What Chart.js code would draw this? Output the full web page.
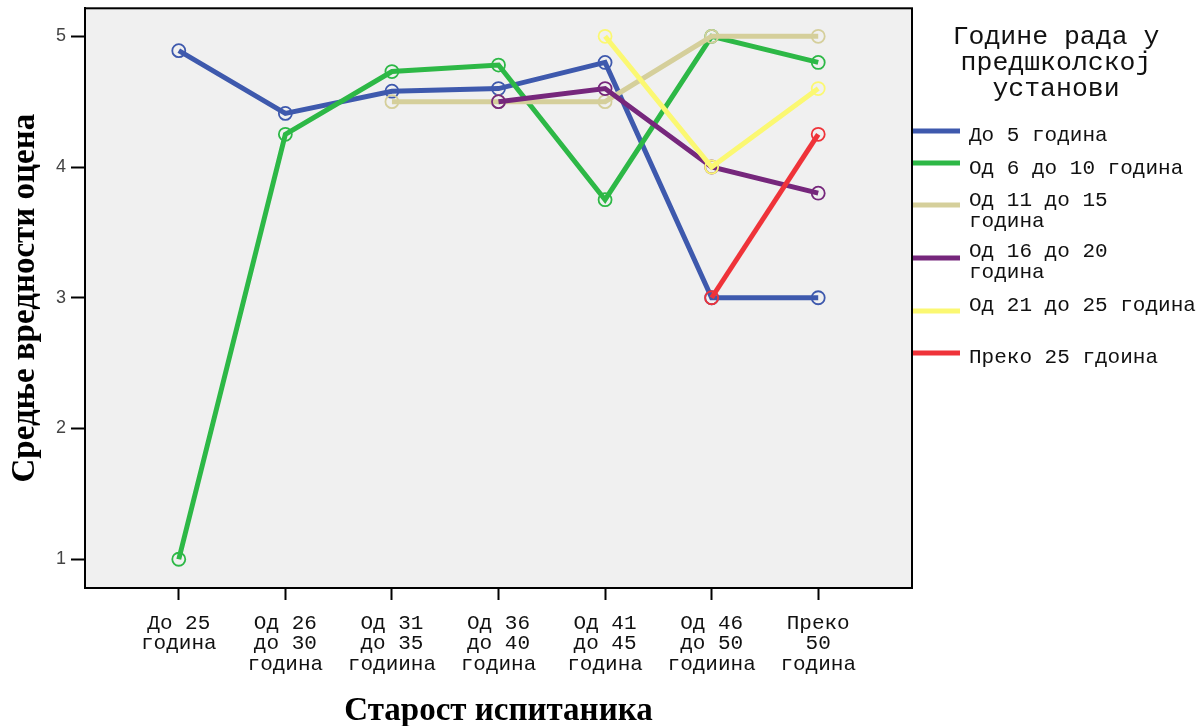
<!DOCTYPE html>
<html>
<head>
<meta charset="utf-8">
<script src="https://cdn.jsdelivr.net/npm/chart.js@4"></script>
<style>
  html, body { margin: 0; padding: 0; background: #ffffff; }
  #wrap { width: 1204px; height: 726px; }
</style>
</head>
<body>
<div id="wrap"><canvas id="c" width="1204" height="726"></canvas></div>
<script>
// Age groups of respondents (x axis), split into lines as printed
const ageGroups = [
  ['До 25', 'година'],
  ['Од 26', 'до 30', 'година'],
  ['Од 31', 'до 35', 'годиина'],
  ['Од 36', 'до 40', 'година'],
  ['Од 41', 'до 45', 'година'],
  ['Од 46', 'до 50', 'годиина'],
  ['Преко', '50', 'година']
];

// Years of work in the preschool institution (series)
const seriesNames = [
  ['До 5 година'],
  ['Од 6 до 10 година'],
  ['Од 11 до 15', 'година'],
  ['Од 16 до 20', 'година'],
  ['Од 21 до 25 година'],
  ['Преко 25 гдоина']
];

// Mean grades per age group
const upTo5      = [4.89, 4.41, 4.58, 4.60, 4.80, 3.00, 3.00];
const from6to10  = [1.00, 4.25, 4.73, 4.78, 3.75, 5.00, 4.80];
const from11to15 = [null, null, 4.50, 4.50, 4.50, 5.00, 5.00];
const from16to20 = [null, null, null, 4.50, 4.60, 4.00, 3.80];
const from21to25 = [null, null, null, null, 5.00, 4.00, 4.60];
const over25     = [null, null, null, null, null, 3.00, 4.25];

const yTicks = [1, 2, 3, 4, 5];

const seriesValues = [upTo5, from6to10, from11to15, from16to20, from21to25, over25];
const seriesColors = ['#3e59ad', '#2db846', '#d5cf9b', '#76277c', '#fbf872', '#ef3339'];

const datasets = seriesValues.map((vals, i) => ({
  label: seriesNames[i].join(' '),
  data: vals.map((v, k) => ({ x: k, y: v })),
  borderColor: seriesColors[i],
  backgroundColor: 'rgba(0,0,0,0)',
  borderWidth: 5,
  pointRadius: 6.5,
  pointHoverRadius: 6.5,
  pointBorderWidth: 1.8,
  pointBorderColor: seriesColors[i],
  pointBackgroundColor: 'rgba(0,0,0,0)',
  tension: 0,
  spanGaps: false,
  // later series are painted over earlier ones
  order: seriesValues.length - i
}));

// Plot-area background and frame
const frame = {
  id: 'frame',
  beforeDatasetsDraw(chart) {
    const { ctx, chartArea: a } = chart;
    ctx.save();
    ctx.fillStyle = '#f0f0f0';
    ctx.fillRect(a.left, a.top, a.right - a.left, a.bottom - a.top);
    ctx.restore();
  },
  afterDatasetsDraw(chart) {
    const { ctx, chartArea: a } = chart;
    ctx.save();
    ctx.strokeStyle = '#000';
    ctx.lineWidth = 2;
    ctx.strokeRect(a.left, a.top, a.right - a.left, a.bottom - a.top);
    ctx.restore();
  }
};

// Legend panel at the right
const sideLegend = {
  id: 'sideLegend',
  afterDraw(chart) {
    const { ctx } = chart;
    ctx.save();
    ctx.fillStyle = '#111';
    ctx.textBaseline = 'middle';
    ctx.textAlign = 'center';
    ctx.font = '26.5px "Liberation Mono", "Courier New", monospace';
    const title = ['Године рада у', 'предшколској', 'установи'];
    const titleY = [37, 63, 89];
    title.forEach((t, i) => ctx.fillText(t, 1056, titleY[i]));

    const swatchY = [131, 163, 205, 258, 311, 353];
    const textY = [135, 168, 200, 251, 305, 357];
    ctx.textAlign = 'left';
    ctx.font = '21px "Liberation Mono", "Courier New", monospace';
    seriesNames.forEach((lines, i) => {
      ctx.strokeStyle = seriesColors[i];
      ctx.lineWidth = 5;
      ctx.beginPath();
      ctx.moveTo(913, swatchY[i]);
      ctx.lineTo(960, swatchY[i]);
      ctx.stroke();
      lines.forEach((ln, j) => ctx.fillText(ln, 969, textY[i] + j * 21));
    });
    ctx.restore();
  }
};

new Chart(document.getElementById('c'), {
  type: 'line',
  data: { datasets },
  options: {
    responsive: false,
    animation: false,
    events: [],
    layout: { padding: { left: 0, right: 292, top: 8, bottom: 0 } },
    plugins: {
      legend: { display: false },
      tooltip: { enabled: false }
    },
    scales: {
      x: {
        type: 'linear',
        min: -0.88,
        max: 6.88,
        afterBuildTicks(scale) {
          scale.ticks = ageGroups.map((_, i) => ({ value: i }));
        },
        afterFit(scale) {
          scale.height = 138;
          scale.paddingLeft = 0;
          scale.paddingRight = 0;
        },
        ticks: {
          autoSkip: false,
          maxRotation: 0,
          padding: 13,
          color: '#111',
          font: { family: '"Liberation Mono", "Courier New", monospace', size: 21, lineHeight: 0.98 },
          callback: (v) => ageGroups[v]
        },
        grid: {
          drawOnChartArea: false,
          drawTicks: true,
          tickLength: 12,
          tickWidth: 2,
          tickColor: '#000'
        },
        border: { display: true, color: '#000', width: 2 },
        title: {
          display: true,
          text: 'Старост испитаника',
          color: '#000',
          font: { family: '"Liberation Serif", "Times New Roman", serif', size: 33, weight: 'bold' },
          padding: { top: 11, bottom: -5 }
        }
      },
      y: {
        type: 'linear',
        min: 0.78,
        max: 5.214,
        afterBuildTicks(scale) {
          scale.ticks = yTicks.map(v => ({ value: v }));
        },
        afterFit(scale) {
          scale.width = 85;
          scale.paddingTop = 0;
          scale.paddingBottom = 0;
        },
        ticks: {
          padding: 5,
          color: '#444',
          font: { family: '"Liberation Sans", Arial, sans-serif', size: 18 }
        },
        grid: {
          drawOnChartArea: false,
          drawTicks: true,
          tickLength: 14,
          tickWidth: 2,
          tickColor: '#000'
        },
        border: { display: true, color: '#000', width: 2 },
        title: {
          display: true,
          text: 'Средње вредности оцена',
          color: '#000',
          font: { family: '"Liberation Serif", "Times New Roman", serif', size: 33, weight: 'bold' },
          padding: { top: 6, bottom: 0 }
        }
      }
    }
  },
  plugins: [frame, sideLegend]
});
</script>
</body>
</html>
